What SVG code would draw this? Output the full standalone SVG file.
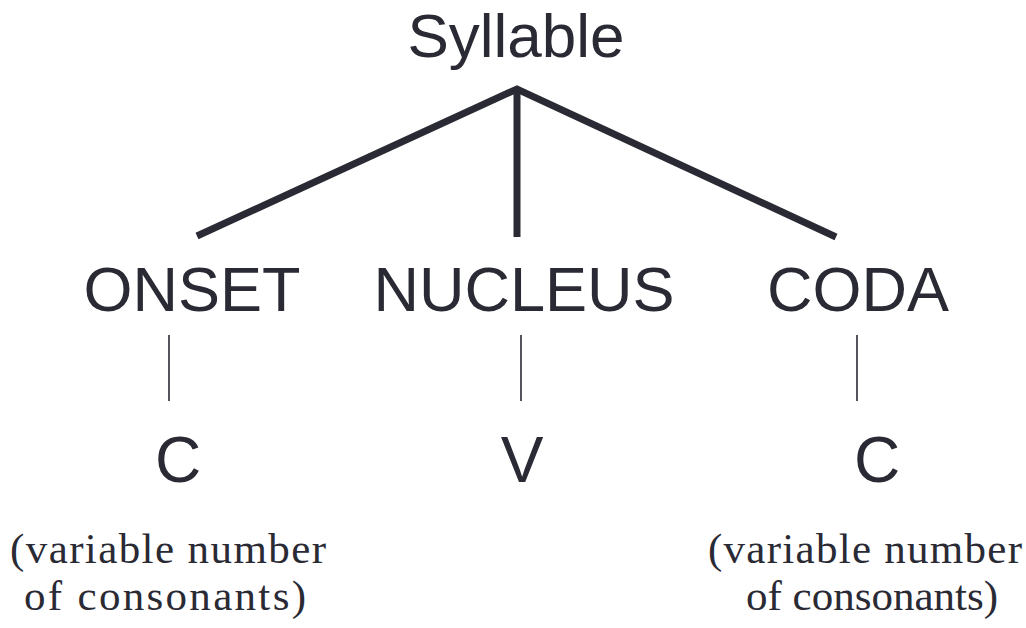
<svg xmlns="http://www.w3.org/2000/svg" width="1026" height="628" viewBox="0 0 1026 628">
<style>
.s{font-family:"Liberation Sans",Arial,sans-serif;fill:#2a2a35;text-anchor:middle}
.n{font-family:"Liberation Serif","Times New Roman",serif;fill:#2a2a35;font-size:43px}
.thick{stroke:#2a2a35;stroke-width:7;fill:none;stroke-linecap:butt}
.thin{stroke:#2a2a35;stroke-width:1.6;fill:none}
</style>
<rect width="1026" height="628" fill="#ffffff"/>
<g id="connectors">
<path class="thick" d="M197,236 L517,89 L836,237"/>
<line class="thick" x1="517" y1="89" x2="517" y2="237"/>
<line class="thin" x1="169" y1="335" x2="169" y2="401"/>
<line class="thin" x1="521" y1="335" x2="521" y2="401"/>
<line class="thin" x1="857" y1="335" x2="857" y2="401"/>
</g>
<g id="syllable"><text class="s" x="516" y="57" font-size="62">Syllable</text></g>
<g id="onset"><text class="s" x="192" y="311" font-size="63">ONSET</text></g>
<g id="nucleus"><text class="s" x="524" y="311" font-size="63">NUCLEUS</text></g>
<g id="coda"><text class="s" x="858" y="311" font-size="63">CODA</text></g>
<g id="c1"><text class="s" x="178" y="482" font-size="64">C</text></g>
<g id="v"><text class="s" x="522" y="482" font-size="64">V</text></g>
<g id="c2"><text class="s" x="877" y="482" font-size="64">C</text></g>
<g id="note1">
<text class="n" x="10" y="563" textLength="316" lengthAdjust="spacing">(variable number</text>
<text class="n" x="24" y="610" textLength="282" lengthAdjust="spacing">of consonants)</text>
</g>
<g id="note2">
<text class="n" x="708" y="563" textLength="314" lengthAdjust="spacing">(variable number</text>
<text class="n" x="746" y="610" textLength="252" lengthAdjust="spacing">of consonants)</text>
</g>
</svg>
